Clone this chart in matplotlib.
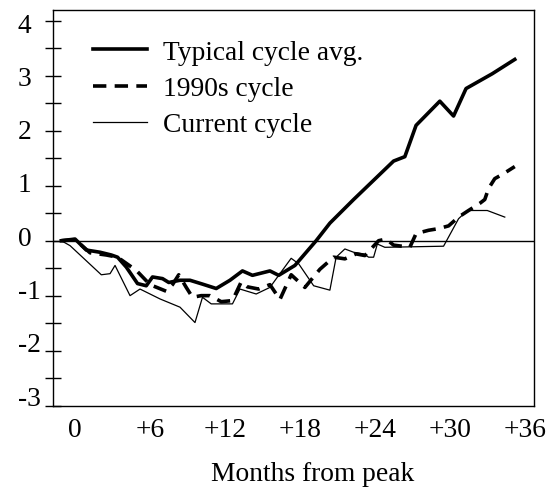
import matplotlib
matplotlib.use("Agg")
import matplotlib.pyplot as plt
from matplotlib.ticker import FixedLocator, NullFormatter

plt.rcParams["font.family"] = ["Liberation Serif", "DejaVu Serif"]

# Typical cycle average (thick solid)
typical_months = [-1.1, 0.0, 0.9, 2.0, 2.9, 3.4, 4.1, 5.0, 5.7, 6.2, 7.0, 7.5, 8.4, 9.2,
                  10.2, 11.3, 12.4, 13.4, 14.2, 15.6, 16.3, 17.6, 19.3, 20.4, 22.3, 25.5,
                  26.4, 27.3, 29.2, 30.3, 31.3, 33.4, 35.2]
typical_vals = [0.0, 0.03, -0.17, -0.21, -0.26, -0.30, -0.48, -0.78, -0.82, -0.66, -0.69,
                -0.76, -0.72, -0.72, -0.79, -0.87, -0.72, -0.55, -0.63, -0.55, -0.63, -0.45,
                0.0, 0.32, 0.75, 1.45, 1.53, 2.1, 2.54, 2.27, 2.77, 3.04, 3.3]

# 1990s cycle (thick dashed)
d90_months = [-1.1, 0.0, 1.2, 2.5, 3.4, 4.9, 6.0, 7.3, 7.8, 8.3, 8.9, 9.4, 10.1, 10.8,
              11.7, 12.6, 13.3, 13.8, 14.7, 15.6, 16.4, 17.3, 18.4, 19.6, 20.1, 20.7,
              21.6, 22.5, 23.2, 24.3, 24.9, 25.5, 26.8, 27.3, 28.3, 29.1, 29.9, 30.7,
              31.5, 32.4, 32.8, 33.1, 33.6, 34.3, 35.2]
d90_vals = [0.0, 0.02, -0.22, -0.26, -0.30, -0.54, -0.80, -0.92, -0.80, -0.62, -0.85,
            -1.03, -1.0, -1.0, -1.11, -1.09, -0.75, -0.84, -0.88, -0.80, -1.07, -0.62,
            -0.85, -0.52, -0.42, -0.30, -0.33, -0.24, -0.27, 0.0, 0.03, -0.08, -0.12,
            0.13, 0.19, 0.22, 0.27, 0.43, 0.55, 0.68, 0.75, 0.95, 1.13, 1.22, 1.35]

# Current cycle (thin solid)
current_months = [-1.1, -0.4, 2.1, 2.8, 3.2, 4.4, 5.2, 6.8, 8.4, 9.6, 10.2, 10.9, 12.6,
                  13.2, 14.5, 15.6, 16.4, 17.3, 17.9, 19.1, 20.4, 20.9, 21.6, 22.3, 23.1,
                  23.5, 23.9, 24.2, 24.8, 29.5, 30.7, 31.4, 33.0, 34.4]
current_vals = [0.0, -0.09, -0.62, -0.60, -0.45, -1.0, -0.88, -1.06, -1.21, -1.49, -1.03,
                -1.15, -1.15, -0.88, -0.97, -0.85, -0.60, -0.32, -0.42, -0.82, -0.90,
                -0.30, -0.15, -0.21, -0.24, -0.30, -0.30, -0.06, -0.12, -0.10, 0.40, 0.55,
                0.55, 0.43]

x_ticks = [0, 6, 12, 18, 24, 30, 36]
x_labels = ["0", "+6", "+12", "+18", "+24", "+30", "+36"]
y_labels = [4, 3, 2, 1, 0, -1, -2, -3]
y_minor = [v / 2 for v in range(-6, 9)]

FS = 19.8

fig = plt.figure(figsize=(5.56, 4.89), dpi=100)
ax = fig.add_axes([0.0948, 0.1687, 0.8663, 0.8088])

ax.axhline(0, color="black", lw=1.0, zorder=1)
ax.plot(typical_months, typical_vals, color="black", lw=2.6, label="Typical cycle avg.")
ax.plot(d90_months, d90_vals, color="black", lw=2.6, linestyle=(0, (3.7, 2.3)),
        label="1990s cycle")
ax.plot(current_months, current_vals, color="black", lw=0.9, label="Current cycle")

ax.set_xlim(-1.79, 36.77)
ax.set_ylim(-3, 4.2)

# x axis: labels only
ax.set_xticks(x_ticks)
ax.set_xticklabels(x_labels, fontsize=FS)
ax.tick_params(axis="x", length=0, pad=8)

# y axis: tick marks every 0.5, labels sit slightly off the marks (as in original)
ax.yaxis.set_minor_locator(FixedLocator(y_minor))
ax.yaxis.set_minor_formatter(NullFormatter())
ax.tick_params(axis="y", which="minor", direction="inout", length=12, width=1.0)
ax.set_yticks([k * 0.97 + 0.1 for k in y_labels])
ax.set_yticklabels([str(k) for k in y_labels], fontsize=FS, ha="left")
ax.tick_params(axis="y", which="major", length=0, pad=25.3)

for sp in ax.spines.values():
    sp.set_linewidth(1.0)

ax.set_xlabel("Months from peak", fontsize=FS, x=0.54, labelpad=14)

ax.legend(loc="upper left", bbox_to_anchor=(0.084, 0.925), frameon=False, fontsize=FS,
          handlelength=1.95, handletextpad=0.58, labelspacing=0.4, borderpad=0,
          borderaxespad=0)

fig.savefig("out.png", dpi=100)
